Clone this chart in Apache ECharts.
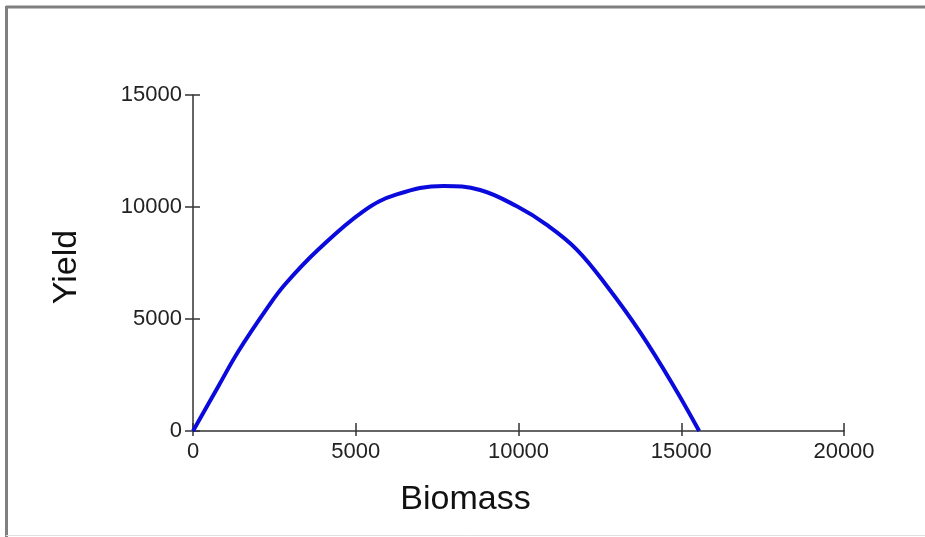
<!DOCTYPE html>
<html>
<head>
<meta charset="utf-8">
<script src="https://cdn.jsdelivr.net/npm/echarts@6/dist/echarts.min.js"></script>
<style>
  html, body { margin: 0; padding: 0; background: #fff; }
  #chart { width: 925px; height: 537px; }
</style>
</head>
<body>
<div id="chart"></div>
<script>
// Data
const biomass = [0, 780, 1390, 2310, 2830, 3850, 5240, 6260, 7700, 8820, 9950, 10870, 11790, 12720, 13740, 14770, 15550];
const yieldVals = [0, 2000, 3550, 5550, 6550, 8100, 9820, 10560, 10940, 10760, 10030, 9200, 8100, 6460, 4400, 2000, 0];
const xTicks = [0, 5000, 10000, 15000, 20000];
const yTicks = [0, 5000, 10000, 15000];

const points = biomass.map((b, i) => [b, yieldVals[i]]);

const chart = echarts.init(document.getElementById('chart'));
const labelFont = { fontFamily: 'Liberation Sans, Arial, sans-serif', fontSize: 22, color: '#222' };
const titleFont = { fontFamily: 'Liberation Sans, Arial, sans-serif', fontSize: 34, color: '#111' };

chart.setOption({
  backgroundColor: '#fff',
  animation: false,
  grid: { left: 193, right: 81, top: 95, bottom: 106, containLabel: false },
  graphic: [
    { type: 'line', shape: { x1: 6, y1: 7, x2: 925, y2: 7 }, style: { stroke: '#808080', lineWidth: 3 } },
    { type: 'line', shape: { x1: 6.5, y1: 6, x2: 6.5, y2: 537 }, style: { stroke: '#808080', lineWidth: 3 } },
    { type: 'line', shape: { x1: 6, y1: 535.5, x2: 925, y2: 535.5 }, style: { stroke: '#e0e0e0', lineWidth: 1 } }
  ],
  xAxis: [
    {
      type: 'value', position: 'bottom', min: 0, max: 20000, interval: 5000,
      name: 'Biomass', nameLocation: 'middle', nameGap: 52,
      nameTextStyle: Object.assign({ padding: [0, 106, 0, 0] }, titleFont),
      axisLine: { show: true, lineStyle: { color: '#333', width: 1.5 } },
      axisTick: { show: true, inside: false, length: 5, lineStyle: { color: '#333', width: 1.5 } },
      axisLabel: Object.assign({ margin: 10, formatter: v => xTicks.includes(v) ? String(v) : '' }, labelFont),
      splitLine: { show: false }
    },
    {
      type: 'value', position: 'bottom', min: 0, max: 20000, interval: 5000,
      axisLine: { show: false },
      axisTick: { show: true, inside: true, length: 8, lineStyle: { color: '#333', width: 1.5 } },
      axisLabel: { show: false },
      splitLine: { show: false }
    }
  ],
  yAxis: [
    {
      type: 'value', position: 'left', min: 0, max: 15000, interval: 5000,
      name: 'Yield', nameLocation: 'middle', nameGap: 109, nameRotate: 90,
      nameTextStyle: Object.assign({ padding: [0, 8, 0, 0] }, titleFont),
      axisLine: { show: true, lineStyle: { color: '#333', width: 1.5 } },
      axisTick: { show: true, inside: false, length: 8, lineStyle: { color: '#333', width: 1.5 } },
      axisLabel: Object.assign({ margin: 11, formatter: v => yTicks.includes(v) ? String(v) : '' }, labelFont),
      splitLine: { show: false }
    },
    {
      type: 'value', position: 'left', min: 0, max: 15000, interval: 5000,
      axisLine: { show: false },
      axisTick: { show: true, inside: true, length: 7, lineStyle: { color: '#333', width: 1.5 } },
      axisLabel: { show: false },
      splitLine: { show: false }
    }
  ],
  series: [{
    type: 'line',
    xAxisIndex: 0, yAxisIndex: 0,
    data: points,
    smooth: 0.4,
    showSymbol: false,
    lineStyle: { color: '#0a0adc', width: 4 }
  }]
});
</script>
</body>
</html>
